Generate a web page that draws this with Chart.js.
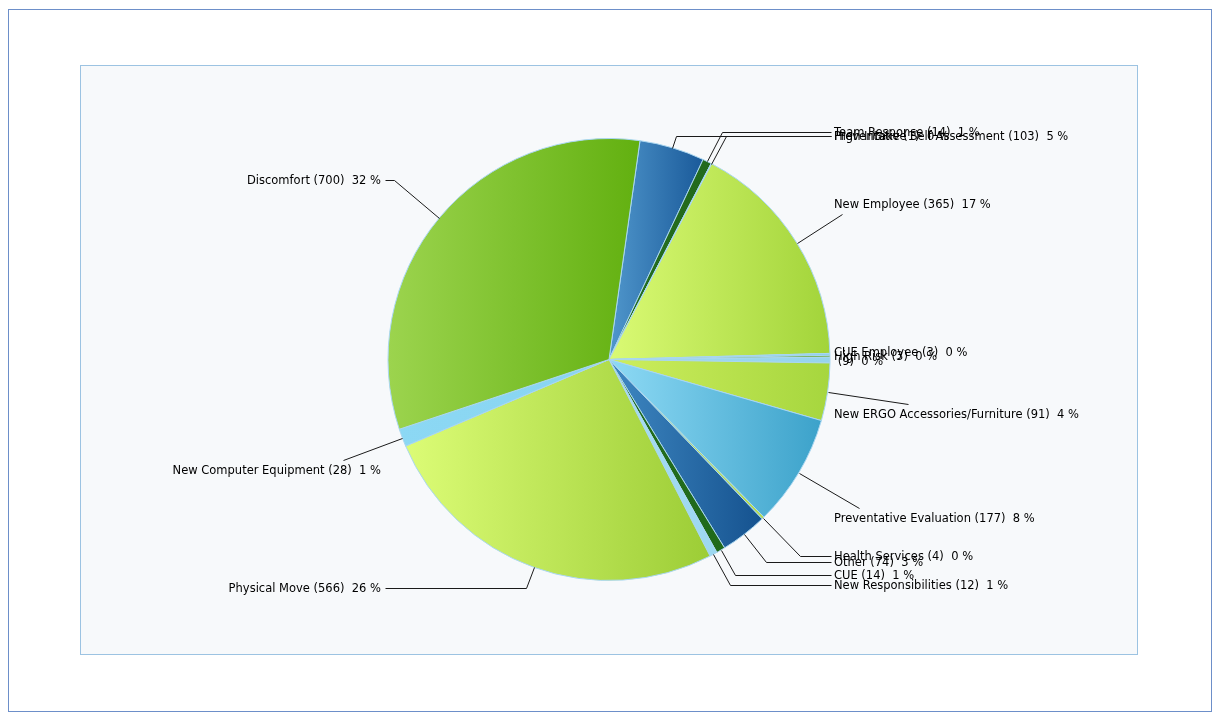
<!DOCTYPE html>
<html>
<head>
<meta charset="utf-8">
<script src="https://cdn.jsdelivr.net/npm/chart.js@4.4.1/dist/chart.umd.min.js"></script>
<style>
  html, body { margin: 0; padding: 0; background: #fff; }
  #wrap { position: relative; width: 1222px; height: 722px; }
  #outer { position: absolute; left: 8px; top: 9px; width: 1202px; height: 701px; border: 1px solid #6d8fc9; }
  #panel { position: absolute; left: 80px; top: 65px; width: 1056px; height: 588px; border: 1px solid #9cc3e2; background: #f7f9fb; }
  #chartBox { position: absolute; left: 0; top: 0; width: 1222px; height: 722px; }
</style>
</head>
<body>
<div id="wrap">
  <div id="outer"></div>
  <div id="panel"></div>
  <div id="chartBox"><canvas id="myChart"></canvas></div>
</div>
<script>
const categories = [
    'Preventative Self Assessment', 'Team Response', 'High Intake', 'New Employee',
    'CUE Employee', 'High Risk', '', 'New ERGO Accessories/Furniture',
    'Preventative Evaluation', 'Health Services', 'Other', 'CUE',
    'New Responsibilities', 'Physical Move', 'New Computer Equipment', 'Discomfort'
];
const counts = [103, 14, 1, 365, 3, 3, 9, 91, 177, 4, 74, 14, 12, 566, 28, 700];

// left (light) / right (dark) colour of each slice gradient
const lightColors = ['#5097cc', '#266e20', '#8ad6f2', '#dafa74', '#8fd4f0', '#6fb034', '#9ed9f1', '#cdee5e',
                     '#8edaf5', '#bfe456', '#3f88c2', '#246c1e', '#a6ddf3', '#dcfc76', '#8cd8f4', '#9cd44e'];
const darkColors  = ['#1a5a9a', '#226a1c', '#86d2ee', '#a2d43a', '#8ad0ee', '#6aaa30', '#96d4ee', '#a6d63e',
                     '#3ca2ca', '#b4dc4c', '#15528f', '#206a1a', '#9cd8f0', '#9ccd36', '#88d4f0', '#62b010'];

// text centre of each label (layout)
const labelY = [136, 132, 136, 204, 352, 356, 361, 414, 518, 556, 562, 575, 585, 588, 470, 180];

const startAngle = 8.06;
const total = counts.reduce((a, b) => a + b, 0);

const sliceGradient = (ctx) => {
    const i = ctx.dataIndex;
    const chart = ctx.chart;
    const area = chart.chartArea;
    if (!area) return lightColors[i];
    const cx = (area.left + area.right) / 2;
    const cy = (area.top + area.bottom) / 2;
    const r = (Math.min(area.right - area.left, area.bottom - area.top) - 1) / 2;
    let before = 0;
    for (let k = 0; k < i; k++) before += counts[k];
    const a0 = (startAngle - 90) * Math.PI / 180 + before / total * Math.PI * 2;
    const a1 = a0 + counts[i] / total * Math.PI * 2;
    let xmin = cx, xmax = cx;
    for (let s = 0; s <= 60; s++) {
        const x = cx + r * Math.cos(a0 + (a1 - a0) * s / 60);
        xmin = Math.min(xmin, x);
        xmax = Math.max(xmax, x);
    }
    if (xmax - xmin < 1) return lightColors[i];
    const g = chart.ctx.createLinearGradient(xmin, cy, xmax, cy);
    g.addColorStop(0, lightColors[i]);
    g.addColorStop(1, darkColors[i]);
    return g;
};

const labelText = (i) => {
    const pct = Math.round(counts[i] / total * 100);
    return categories[i] + ' (' + counts[i] + ')  ' + pct + ' %';
};

const leaderLabels = {
    id: 'leaderLabels',
    afterDatasetsDraw(chart) {
        const c = chart.ctx;
        const meta = chart.getDatasetMeta(0);
        c.save();
        c.font = '11.5px "DejaVu Sans", Verdana, sans-serif';
        c.fillStyle = '#000';
        c.strokeStyle = '#1a1a1a';
        c.lineWidth = 1;
        c.textBaseline = 'middle';
        meta.data.forEach((arc, i) => {
            const mid = (arc.startAngle + arc.endAngle) / 2;
            const dx = Math.cos(mid), dy = Math.sin(mid);
            const ex = arc.x + arc.outerRadius * dx;
            const ey = arc.y + arc.outerRadius * dy;
            const right = dx >= 0;
            const ly = labelY[i];
            const text = labelText(i);
            const w = c.measureText(text).width;
            const textX = right ? arc.x + 225 : arc.x - 228;
            const inText = (x, y) => Math.abs(y - ly) <= 10 &&
                (right ? x >= textX - 1 && x <= textX + w : x <= textX + 1 && x >= textX - w);
            let px = ex, py = ey, hx = null;
            const side0 = Math.sign(ey - ly);
            for (let t = 0; t < 300; t += 0.5) {
                const x = ex + dx * t, y = ey + dy * t;
                if (inText(x, y)) { px = x; py = y; break; }
                if (Math.sign(y - ly) !== side0) {
                    px = x; py = ly;
                    if (right && x < textX - 3) hx = textX - 3;
                    if (!right && x > textX + 4) hx = textX + 4;
                    break;
                }
                px = x; py = y;
            }
            if (Math.hypot(px - ex, py - ey) > 6 || hx !== null) {
                c.beginPath();
                c.moveTo(Math.round(ex) + 0.5, Math.round(ey) + 0.5);
                c.lineTo(Math.round(px) + 0.5, Math.round(py) + 0.5);
                if (hx !== null) c.lineTo(Math.round(hx) + 0.5, Math.round(py) + 0.5);
                c.stroke();
            }
            c.textAlign = right ? 'left' : 'right';
            c.fillText(text, textX, ly + 1);
        });
        c.restore();
    }
};

const ctx = document.getElementById('myChart').getContext('2d');
const myChart = new Chart(ctx, {
    type: 'pie',
    data: {
        labels: categories,
        datasets: [{
            data: counts,
            backgroundColor: sliceGradient,
            borderColor: '#a9d6f0',
            borderWidth: 1
        }]
    },
    options: {
        responsive: true,
        maintainAspectRatio: false,
        animation: false,
        rotation: startAngle,
        layout: {
            padding: { top: 138, bottom: 141, left: 309, right: 313 }
        },
        plugins: {
            legend: false,
            tooltip: { enabled: false }
        }
    },
    plugins: [leaderLabels]
});
</script>
</body>
</html>
